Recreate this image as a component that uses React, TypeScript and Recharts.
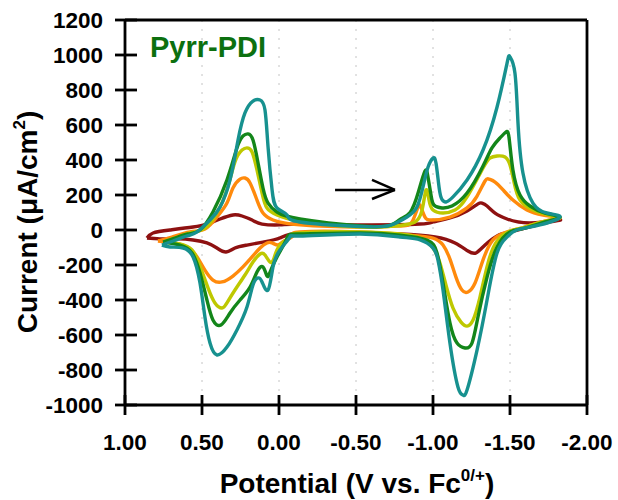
import { LineChart, Line, XAxis, YAxis, CartesianGrid, ReferenceLine } from "recharts";

const FONT = "'Liberation Sans', Arial, sans-serif";

const X_TICKS = [1, 0.5, 0, -0.5, -1, -1.5, -2];
const Y_TICKS = [-1000, -800, -600, -400, -200, 0, 200, 400, 600, 800, 1000, 1200];

// each scan: forward branch left -> right, then return branch right -> left
const darkRedV = [0.857, 0.818, 0.708, 0.558, 0.468, 0.383, 0.299, 0.24, 0.175, 0.11, -0.006, -0.136, -0.526, -0.916, -1.0, -1.11, -1.221, -1.292, -1.318, -1.351, -1.403, -1.481, -1.63, -1.825,
  -1.727, -1.597, -1.5, -1.416, -1.338, -1.279, -1.227, -1.143, -1.013, -0.786, -0.526, -0.136, -0.006, 0.104, 0.208, 0.286, 0.344, 0.403, 0.468, 0.558, 0.662, 0.773];
const darkRedI = [-46, -17, 0, 17, 34, 63, 86, 80, 57, 34, 29, 34, 29, 34, 46, 69, 109, 149, 154, 137, 97, 63, 40, 57,
  40, 11, -11, -34, -86, -131, -120, -74, -40, -23, -17, -17, -46, -69, -86, -103, -126, -103, -74, -57, -51, -51];

const orangeV = [0.786, 0.695, 0.578, 0.481, 0.403, 0.338, 0.299, 0.253, 0.221, 0.188, 0.143, 0.104, 0.039, -0.136, -0.526, -0.786, -0.864, -0.903, -0.922, -0.948, -0.994, -1.11, -1.221, -1.286, -1.338, -1.364, -1.403, -1.455, -1.519, -1.61, -1.714, -1.825,
  -1.727, -1.597, -1.481, -1.39, -1.325, -1.273, -1.227, -1.188, -1.149, -1.11, -1.065, -1.0, -0.851, -0.526, -0.136, -0.091, -0.032, 0.006, 0.045, 0.078, 0.123, 0.175, 0.234, 0.299, 0.37, 0.429, 0.481, 0.532, 0.597, 0.695];
const orangeI = [-63, -40, -11, 6, 74, 154, 240, 291, 297, 269, 171, 97, 57, 29, 17, 23, 46, 131, 131, 74, 57, 74, 126, 194, 280, 291, 274, 229, 171, 114, 86, 69,
  51, 17, -11, -57, -171, -303, -354, -343, -269, -166, -86, -46, -29, -11, -11, -34, -63, -86, -74, -74, -103, -154, -211, -263, -297, -286, -229, -154, -97, -74];

const yellowV = [0.74, 0.656, 0.578, 0.481, 0.403, 0.338, 0.286, 0.24, 0.208, 0.175, 0.143, 0.11, 0.078, 0.013, -0.136, -0.526, -0.786, -0.883, -0.929, -0.955, -0.974, -1.0, -1.065, -1.143, -1.221, -1.325, -1.37, -1.416, -1.468, -1.5, -1.526, -1.565, -1.649, -1.747, -1.825,
  -1.727, -1.597, -1.5, -1.416, -1.357, -1.305, -1.26, -1.221, -1.182, -1.13, -1.084, -1.045, -1.0, -0.916, -0.786, -0.526, -0.136, -0.071, -0.006, 0.032, 0.058, 0.091, 0.123, 0.169, 0.221, 0.286, 0.338, 0.37, 0.416, 0.461, 0.513, 0.565, 0.643];
const yellowI = [-63, -40, -17, 11, 97, 229, 389, 457, 469, 446, 343, 211, 126, 86, 51, 17, 26, 46, 114, 229, 171, 114, 97, 114, 189, 354, 411, 423, 417, 371, 274, 171, 114, 86, 69,
  51, 17, -6, -63, -189, -383, -514, -549, -526, -446, -314, -189, -103, -46, -23, -11, -17, -40, -86, -160, -183, -143, -137, -183, -257, -343, -417, -446, -417, -331, -206, -114, -80];

const greenV = [0.753, 0.675, 0.591, 0.513, 0.429, 0.338, 0.273, 0.234, 0.201, 0.169, 0.136, 0.104, 0.071, 0.013, -0.136, -0.526, -0.72, -0.786, -0.851, -0.903, -0.948, -0.968, -0.987, -1.006, -1.058, -1.123, -1.221, -1.325, -1.383, -1.435, -1.474, -1.494, -1.519, -1.565, -1.63, -1.727, -1.825,
  -1.727, -1.597, -1.5, -1.416, -1.351, -1.292, -1.253, -1.208, -1.156, -1.11, -1.065, -1.026, -0.961, -0.786, -0.526, -0.136, -0.052, 0.013, 0.058, 0.078, 0.104, 0.143, 0.188, 0.253, 0.318, 0.377, 0.429, 0.468, 0.513, 0.565, 0.643];
const greenI = [-69, -46, -23, 0, 103, 286, 469, 537, 549, 514, 383, 240, 154, 103, 63, 23, 26, 60, 100, 211, 337, 300, 200, 143, 126, 137, 211, 366, 469, 526, 560, 526, 343, 200, 137, 97, 74,
  46, 11, -11, -97, -269, -497, -646, -674, -646, -531, -303, -131, -57, -29, -17, -23, -46, -154, -240, -263, -211, -240, -326, -400, -474, -543, -514, -400, -246, -131, -86];

const tealV = [0.76, 0.688, 0.597, 0.532, 0.448, 0.383, 0.318, 0.266, 0.221, 0.169, 0.123, 0.091, 0.071, 0.045, 0.013, -0.052, -0.136, -0.526, -0.72, -0.831, -0.896, -0.935, -0.968, -1.0, -1.02, -1.04, -1.058, -1.085, -1.13, -1.221, -1.325, -1.416, -1.481, -1.5, -1.532, -1.552, -1.584, -1.649, -1.74, -1.825,
  -1.695, -1.545, -1.481, -1.416, -1.351, -1.286, -1.221, -1.195, -1.162, -1.11, -1.065, -1.032, -1.0, -0.916, -0.786, -0.526, -0.136, -0.071, -0.006, 0.039, 0.071, 0.11, 0.136, 0.169, 0.208, 0.273, 0.338, 0.403, 0.448, 0.481, 0.513, 0.558, 0.623, 0.708];
const tealI = [-86, -63, -34, -11, 57, 131, 286, 514, 669, 737, 743, 686, 474, 229, 126, 86, 46, 20, 26, 74, 131, 246, 360, 411, 380, 240, 175, 160, 189, 286, 457, 703, 954, 989, 897, 611, 326, 154, 97, 74,
  29, 0, -40, -131, -400, -686, -914, -943, -897, -646, -343, -171, -103, -57, -40, -23, -34, -40, -114, -211, -343, -297, -274, -314, -440, -571, -669, -714, -646, -497, -303, -154, -103, -97];

const loop = (v: number[], i: number[]) => {
  const pts = v.map((x, k) => ({ v: x, i: i[k] }));
  pts.push({ v: v[0], i: i[0] });
  return pts;
};

const SERIES = [
  { name: "dark red", color: "#8e1111", data: loop(darkRedV, darkRedI) },
  { name: "orange", color: "#ff8a0c", data: loop(orangeV, orangeI) },
  { name: "yellow", color: "#bec800", data: loop(yellowV, yellowI) },
  { name: "green", color: "#13861a", data: loop(greenV, greenI) },
  { name: "teal", color: "#17918f", data: loop(tealV, tealI) },
];

const TICK_OUT = 10;
const AXIS = { stroke: "#000", strokeWidth: 2.8 };

const YTick = (p: any) => {
  const axisX = p.x + TICK_OUT;
  return (
    <g>
      <line x1={axisX - TICK_OUT} x2={axisX + 12} y1={p.y} y2={p.y} stroke="#000" strokeWidth={2.8} />
      <text x={axisX - 22} y={p.y + 8} textAnchor="end" fontSize={22.5} fontWeight="bold" fill="#000" fontFamily={FONT}>
        {p.payload.value}
      </text>
    </g>
  );
};

const XTick = (p: any) => {
  const axisY = p.y - TICK_OUT;
  return (
    <g>
      <line x1={p.x} x2={p.x} y1={axisY - 10} y2={axisY + TICK_OUT} stroke="#000" strokeWidth={2.8} />
      <text x={p.x} y={axisY + 45} textAnchor="middle" fontSize={22.5} fontWeight="bold" fill="#000" fontFamily={FONT}>
        {Number(p.payload.value).toFixed(2)}
      </text>
    </g>
  );
};

export default function App() {
  return (
    <div style={{ position: "absolute", left: 0, top: 0, width: 618, height: 500, background: "#fff" }}>
      <LineChart width={618} height={500} margin={{ top: 20, right: 31, bottom: 0, left: 0 }}>
        <CartesianGrid horizontal={false} stroke="#c4c4c4" strokeDasharray="2 7" />
        <XAxis
          type="number"
          dataKey="v"
          domain={[-2, 1]}
          reversed
          allowDataOverflow
          ticks={X_TICKS}
          interval={0}
          height={95}
          stroke="#000"
          tickSize={TICK_OUT}
          tickMargin={0}
          tickLine={false}
          tick={<XTick />}
          axisLine={AXIS}
        />
        <XAxis
          xAxisId="top"
          orientation="top"
          type="number"
          dataKey="v"
          domain={[-2, 1]}
          reversed
          allowDataOverflow
          ticks={X_TICKS}
          interval={0}
          mirror
          height={20}
          stroke="#000"
          tickSize={12}
          tick={false}
          tickLine={AXIS}
          axisLine={AXIS}
        />
        <YAxis
          type="number"
          domain={[-1000, 1200]}
          allowDataOverflow
          ticks={Y_TICKS}
          interval={0}
          width={125}
          stroke="#000"
          tickSize={TICK_OUT}
          tickMargin={0}
          tickLine={false}
          tick={<YTick />}
          axisLine={AXIS}
        />
        <ReferenceLine x={-2} stroke="#000" strokeWidth={2.8} />
        {SERIES.map((s) => (
          <Line
            key={s.name}
            data={s.data}
            dataKey="i"
            type="natural"
            stroke={s.color}
            strokeWidth={3.4}
            strokeLinejoin="round"
            dot={false}
            activeDot={false}
            isAnimationActive={false}
          />
        ))}
        <ReferenceLine segment={[{ x: -0.364, y: 229 }, { x: -0.753, y: 229 }]} stroke="#000" strokeWidth={2.5} />
        <ReferenceLine segment={[{ x: -0.604, y: 286 }, { x: -0.753, y: 229 }]} stroke="#000" strokeWidth={2.5} />
        <ReferenceLine segment={[{ x: -0.604, y: 177 }, { x: -0.753, y: 229 }]} stroke="#000" strokeWidth={2.5} />
      </LineChart>
      <svg width={618} height={500} style={{ position: "absolute", left: 0, top: 0, pointerEvents: "none" }}>
        <text x={150} y={57} fontSize={29} fontWeight="bold" fill="#0c700f" fontFamily={FONT}>
          Pyrr-PDI
        </text>
        <text x={357} y={493} textAnchor="middle" fontSize={28} fontWeight="bold" fill="#000" fontFamily={FONT}>
          Potential (V vs. Fc
          <tspan fontSize={17} dy={-12}>0/+</tspan>
          <tspan dy={12}>)</tspan>
        </text>
        <text transform="translate(37,222) rotate(-90)" textAnchor="middle" fontSize={28} fontWeight="bold" fill="#000" fontFamily={FONT}>
          Current (μA/cm
          <tspan fontSize={17} dy={-12}>2</tspan>
          <tspan dy={12}>)</tspan>
        </text>
      </svg>
    </div>
  );
}
